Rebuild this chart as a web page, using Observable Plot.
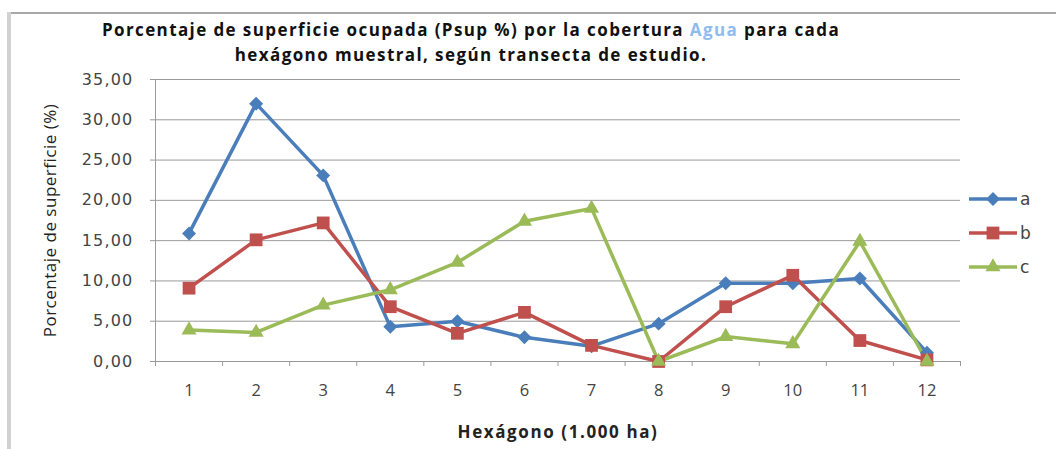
<!DOCTYPE html>
<html>
<head>
<meta charset="utf-8">
<script src="https://cdn.jsdelivr.net/npm/d3@7"></script>
<script src="https://cdn.jsdelivr.net/npm/@observablehq/plot@0.6"></script>
<style>
  html, body { margin: 0; padding: 0; background: #fff; }
  #wrap { position: relative; width: 1056px; height: 449px; overflow: hidden; }
  #frameTop { position: absolute; left: 7px; top: 12px; right: 0; height: 2px; background: #a8a8a8; }
  #frameLeft { position: absolute; left: 7px; top: 12px; width: 4px; bottom: 0; background: #d2d2d2; }
  #title { position: absolute; left: 0; width: 942px; top: 17px; text-align: center;
           font-family: "Open Sans", sans-serif; font-weight: bold; font-size: 17px; letter-spacing: 1.4px; line-height: 25px; color: #111; }
  #title .agua { color: #8fbcef; }
  #chart { position: absolute; left: 0; top: 0; }
  #legend { position: absolute; left: 968px; top: 182px; font-family: "DejaVu Sans", sans-serif; font-size: 17px; color: #444; }
  #legend .row { height: 34px; display: flex; align-items: center; }
  #legend svg { margin-right: 2px; }
</style>
</head>
<body>
<div id="wrap">
  <div id="frameTop"></div>
  <div id="frameLeft"></div>
  <div id="chart"></div>
  <div id="title">Porcentaje de superficie ocupada (Psup %) por la cobertura <span class="agua">Agua</span> para cada<br>hexágono muestral, según transecta de estudio.</div>
  <div id="legend"></div>
</div>
<script>
const hexagons = [1, 2, 3, 4, 5, 6, 7, 8, 9, 10, 11, 12];
const serieA = [15.9, 32.0, 23.1, 4.3, 5.0, 3.0, 1.9, 4.7, 9.7, 9.7, 10.3, 1.1];
const serieB = [9.1, 15.1, 17.2, 6.8, 3.5, 6.1, 2.0, 0.0, 6.8, 10.7, 2.6, 0.2];
const serieC = [3.9, 3.6, 7.0, 8.9, 12.3, 17.4, 19.0, 0.0, 3.1, 2.2, 14.9, 0.0];
const seriesNames = ["a", "b", "c"];
const seriesColors = ["#4a7ebb", "#c0504d", "#9bbb59"];
const seriesSymbols = ["diamond2", "square", "triangle"];
const yTicks = [0, 5, 10, 15, 20, 25, 30, 35];
const xTitle = "Hexágono (1.000 ha)";
const yTitle = "Porcentaje de superficie (%)";

const seriesValues = [serieA, serieB, serieC];
const rows = [];
seriesNames.forEach((s, i) => {
  hexagons.forEach((h, j) => rows.push({serie: s, hex: h, value: seriesValues[i][j]}));
});
const xEdges = [...hexagons.map(h => h - 0.5), hexagons[hexagons.length - 1] + 0.5];
const dotR = {a: 6.3, b: 7.2, c: 5.6};
const yFormat = d => d.toFixed(2).replace(".", ",");

const marks = [
  Plot.ruleY(yTicks, {stroke: "#9a9a9a", strokeWidth: 1}),
  Plot.ruleX([xEdges[0]], {stroke: "#9a9a9a", strokeWidth: 1}),
  Plot.axisY({ticks: yTicks, tickFormat: yFormat, tickSize: 5, tickPadding: 17,
              stroke: "#9a9a9a", fill: "#444", fontSize: 16, fontFamily: "DejaVu Sans", label: null}),
  Plot.axisX({ticks: xEdges, tickFormat: () => "", tickSize: 5, stroke: "#9a9a9a", label: null}),
  Plot.axisX({ticks: hexagons, tickSize: 0, tickPadding: 23, fill: "#444", fontSize: 16.5, fontFamily: "Open Sans", label: null})
];
seriesNames.forEach((s, i) => {
  const d = rows.filter(r => r.serie === s);
  marks.push(Plot.line(d, {x: "hex", y: "value", stroke: seriesColors[i], strokeWidth: 3.5, strokeLinejoin: "round"}));
});
seriesNames.forEach((s, i) => {
  const d = rows.filter(r => r.serie === s);
  marks.push(Plot.dot(d, {x: "hex", y: "value", symbol: () => seriesSymbols[i], fill: seriesColors[i], stroke: "none", r: dotR[s]}));
});
marks.push(Plot.text([xTitle], {frameAnchor: "bottom", dy: 76, textAnchor: "middle", fontWeight: "bold", fontSize: 17, fontFamily: "Open Sans", fill: "#222"}));
marks.push(Plot.text([yTitle], {frameAnchor: "left", dx: -105, textAnchor: "middle", rotate: -90, fontSize: 17, fontFamily: "Open Sans", fill: "#222"}));

const chart = Plot.plot({
  width: 1056,
  height: 449,
  marginLeft: 155,
  marginRight: 96,
  marginTop: 79,
  marginBottom: 88,
  x: {type: "linear", domain: [xEdges[0], xEdges[xEdges.length - 1]]},
  y: {type: "linear", domain: [0, 35]},
  symbol: {type: "identity"},
  style: {background: "transparent", overflow: "visible"},
  marks
});
const yLabels = new Set(yTicks.map(yFormat));
d3.select(chart).selectAll("text").filter(function() { return this.textContent === xTitle; }).attr("letter-spacing", "1.6px");
d3.select(chart).selectAll("text").filter(function() { return this.textContent === yTitle; }).attr("letter-spacing", "0.5px");
d3.select(chart).selectAll("text").filter(function() { return yLabels.has(this.textContent); }).attr("letter-spacing", "1.2px");
document.getElementById("chart").appendChild(chart);

// Legend
const legend = document.getElementById("legend");
const symbolTypes = {diamond2: d3.symbolDiamond2, square: d3.symbolSquare, triangle: d3.symbolTriangle};
seriesNames.forEach((s, i) => {
  const row = document.createElement("div");
  row.className = "row";
  const sym = d3.symbol(symbolTypes[seriesSymbols[i]], Math.PI * dotR[s] * dotR[s])();
  row.innerHTML = `<svg width="50" height="20"><line x1="1" x2="49" y1="10" y2="10" stroke="${seriesColors[i]}" stroke-width="3.5"/><path transform="translate(25,10)" d="${sym}" fill="${seriesColors[i]}"/></svg><span>${s}</span>`;
  legend.appendChild(row);
});
</script>
</body>
</html>
